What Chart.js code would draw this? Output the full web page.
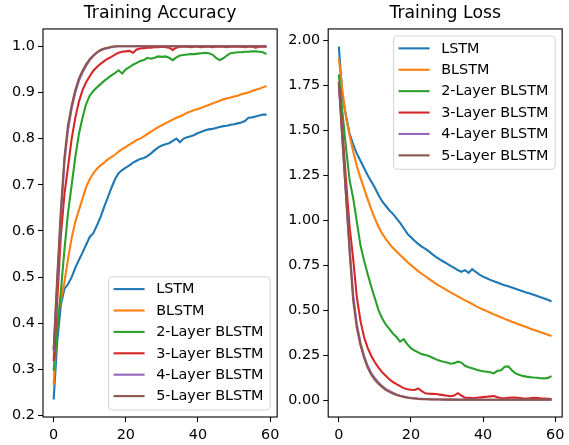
<!DOCTYPE html>
<html><head><meta charset="utf-8">
<script src="https://cdn.jsdelivr.net/npm/chart.js@4.4.1/dist/chart.umd.min.js"></script>
<style>
html,body{margin:0;padding:0;background:#fff;}
#wrap{position:relative;width:569px;height:445px;overflow:hidden;background:#fff;}
canvas{position:absolute;top:0;}
</style></head><body>
<div id="wrap">
<canvas id="acc" width="284" height="445" style="left:0;width:284px;height:445px"></canvas>
<canvas id="loss" width="285" height="445" style="left:284px;width:285px;height:445px"></canvas>
</div>
<script>
// ---------- data ----------
const epochs = Array.from({length: 60}, (_, i) => i);
const seriesNames = ['LSTM', 'BLSTM', '2-Layer BLSTM', '3-Layer BLSTM', '4-Layer BLSTM', '5-Layer BLSTM'];
const xTicks = [0, 20, 40, 60];
const accTicks = [0.2, 0.3, 0.4, 0.5, 0.6, 0.7, 0.8, 0.9, 1.0];
const lossTicks = [0, 0.25, 0.5, 0.75, 1.0, 1.25, 1.5, 1.75, 2.0];

const accLSTM = [0.235,0.36,0.44,0.475,0.485,0.50,0.52,0.537,0.553,0.57,
  0.587,0.595,0.612,0.63,0.652,0.672,0.693,0.712,0.725,0.732,
  0.737,0.742,0.748,0.752,0.756,0.758,0.762,0.768,0.775,0.781,
  0.785,0.788,0.79,0.795,0.80,0.792,0.80,0.803,0.805,0.808,
  0.812,0.815,0.818,0.82,0.821,0.823,0.825,0.827,0.828,0.83,
  0.831,0.833,0.835,0.838,0.845,0.846,0.848,0.85,0.852,0.852];
const accBLSTM = [0.267,0.41,0.45,0.49,0.54,0.585,0.62,0.645,0.67,0.695,
  0.712,0.725,0.735,0.742,0.748,0.755,0.76,0.765,0.772,0.777,
  0.782,0.787,0.792,0.797,0.80,0.805,0.81,0.815,0.82,0.825,
  0.829,0.833,0.837,0.841,0.845,0.848,0.852,0.856,0.859,0.862,
  0.864,0.867,0.87,0.873,0.876,0.879,0.882,0.885,0.887,0.889,
  0.891,0.893,0.896,0.898,0.90,0.903,0.906,0.908,0.911,0.914];
const accL2 = [0.297,0.385,0.47,0.56,0.64,0.70,0.76,0.81,0.845,0.875,
  0.893,0.903,0.911,0.918,0.925,0.931,0.937,0.942,0.948,0.941,
  0.95,0.955,0.96,0.964,0.968,0.97,0.975,0.973,0.975,0.978,
  0.977,0.978,0.975,0.970,0.976,0.980,0.981,0.982,0.983,0.983,
  0.984,0.985,0.986,0.985,0.982,0.975,0.970,0.974,0.980,0.985,
  0.986,0.987,0.987,0.988,0.988,0.989,0.989,0.988,0.987,0.983];
const accL3 = [0.318,0.45,0.59,0.68,0.74,0.80,0.845,0.88,0.905,0.922,
  0.935,0.947,0.955,0.962,0.968,0.973,0.977,0.982,0.986,0.988,
  0.989,0.99,0.986,0.993,0.995,0.996,0.997,0.997,0.998,0.998,
  0.999,0.998,0.997,0.992,0.997,0.999,0.999,0.999,0.998,0.999,
  0.999,0.998,0.999,0.999,0.998,0.999,0.999,0.999,0.998,0.999,
  0.999,0.999,0.999,0.998,0.999,0.999,0.997,0.999,0.999,0.999];
const accL4 = [0.338,0.49,0.63,0.75,0.82,0.865,0.90,0.925,0.943,0.958,
  0.97,0.979,0.986,0.991,0.994,0.996,0.998,0.999,1.0,1.0,
  1.0,1.0,1.0,1.0,1.0,1.0,1.0,1.0,1.0,1.0,
  1.0,1.0,1.0,1.0,1.0,1.0,1.0,1.0,1.0,1.0,
  1.0,1.0,1.0,1.0,1.0,1.0,1.0,1.0,1.0,1.0,
  1.0,1.0,1.0,1.0,1.0,1.0,1.0,1.0,1.0,1.0];
const accL5 = [0.343,0.50,0.645,0.76,0.83,0.872,0.905,0.93,0.947,0.961,
  0.972,0.98,0.987,0.992,0.995,0.997,0.999,1.0,1.0,1.0,
  1.0,1.0,1.0,1.0,1.0,1.0,1.0,1.0,1.0,1.0,
  1.0,1.0,1.0,1.0,1.0,1.0,1.0,1.0,1.0,1.0,
  1.0,1.0,1.0,1.0,1.0,1.0,1.0,1.0,1.0,1.0,
  1.0,1.0,1.0,1.0,1.0,1.0,1.0,1.0,1.0,1.0];

const lossLSTM = [1.965,1.69,1.58,1.48,1.42,1.37,1.33,1.29,1.25,1.215,
  1.18,1.14,1.105,1.08,1.055,1.035,1.01,0.985,0.955,0.925,
  0.905,0.885,0.868,0.853,0.84,0.826,0.81,0.795,0.782,0.77,
  0.758,0.746,0.735,0.722,0.713,0.722,0.707,0.728,0.712,0.697,
  0.686,0.677,0.668,0.66,0.653,0.645,0.638,0.632,0.625,0.618,
  0.612,0.605,0.598,0.592,0.585,0.578,0.571,0.564,0.557,0.548];
const lossBLSTM = [1.90,1.72,1.57,1.47,1.38,1.30,1.235,1.175,1.117,1.06,
  1.008,0.963,0.926,0.896,0.869,0.846,0.826,0.806,0.787,0.767,
  0.75,0.733,0.717,0.702,0.688,0.674,0.66,0.645,0.633,0.622,
  0.61,0.598,0.587,0.576,0.565,0.554,0.544,0.534,0.522,0.512,
  0.503,0.494,0.485,0.476,0.468,0.46,0.451,0.443,0.435,0.428,
  0.42,0.413,0.406,0.398,0.391,0.384,0.377,0.37,0.363,0.356];
const lossL2 = [1.81,1.60,1.40,1.22,1.12,0.99,0.86,0.775,0.70,0.63,
  0.565,0.50,0.455,0.42,0.395,0.37,0.35,0.325,0.338,0.31,
  0.288,0.275,0.265,0.255,0.25,0.245,0.235,0.226,0.218,0.213,
  0.208,0.202,0.205,0.213,0.208,0.19,0.182,0.176,0.17,0.164,
  0.16,0.157,0.154,0.148,0.162,0.165,0.185,0.187,0.165,0.148,
  0.14,0.134,0.13,0.127,0.125,0.124,0.121,0.12,0.123,0.133];
const lossL3 = [1.77,1.50,1.22,0.96,0.78,0.57,0.44,0.35,0.29,0.245,
  0.21,0.18,0.155,0.135,0.115,0.10,0.088,0.077,0.066,0.06,
  0.057,0.056,0.064,0.05,0.037,0.035,0.034,0.033,0.03,0.027,
  0.024,0.021,0.025,0.038,0.025,0.013,0.012,0.011,0.012,0.014,
  0.016,0.018,0.02,0.022,0.015,0.011,0.01,0.012,0.014,0.013,
  0.011,0.009,0.008,0.01,0.012,0.011,0.009,0.008,0.007,0.006];
const lossL4 = [1.765,1.44,1.14,0.84,0.58,0.42,0.32,0.245,0.19,0.15,
  0.122,0.097,0.078,0.062,0.05,0.04,0.031,0.024,0.019,0.015,
  0.012,0.01,0.008,0.007,0.006,0.005,0.004,0.004,0.003,0.003,
  0.003,0.002,0.002,0.002,0.002,0.002,0.002,0.002,0.002,0.002,
  0.001,0.001,0.001,0.001,0.001,0.001,0.001,0.001,0.001,0.001,
  0.001,0.001,0.001,0.001,0.001,0.001,0.001,0.001,0.001,0.001];
const lossL5 = [1.76,1.45,1.13,0.82,0.55,0.40,0.305,0.235,0.18,0.14,
  0.112,0.09,0.072,0.056,0.045,0.036,0.028,0.022,0.017,0.013,
  0.01,0.008,0.006,0.005,0.004,0.0035,0.003,0.003,0.0025,0.002,
  0.002,0.002,0.002,0.0015,0.0015,0.0015,0.0015,0.0015,0.001,0.001,
  0.001,0.001,0.001,0.001,0.001,0.001,0.001,0.001,0.001,0.001,
  0.001,0.001,0.001,0.001,0.001,0.001,0.001,0.001,0.001,0.001];

// ---------- styles ----------
const colors = ['#1f77b4', '#ff7f0e', '#2ca02c', '#d62728', '#9467bd', '#8c564b'];
const FONT = 'DejaVu Sans';
const TICK_SIZE = 14.4;
const TITLE_SIZE = 17.3;

Chart.defaults.color = '#000';
Chart.defaults.font.family = FONT;

function buildDatasets(arrays) {
  return arrays.map((arr, i) => ({
    label: seriesNames[i],
    data: epochs.map((e, k) => ({x: e, y: arr[k]})),
    borderColor: colors[i],
    backgroundColor: colors[i],
    borderWidth: 2.1,
    pointRadius: 0,
    tension: 0,
    fill: false,
    order: arrays.length - i
  }));
}

const frame = {
  id: 'frame',
  afterDatasetsDraw(chart) {
    const a = chart.chartArea, ctx = chart.ctx;
    ctx.save();
    ctx.strokeStyle = '#000';
    ctx.lineWidth = 1.1;
    ctx.strokeRect(a.left, a.top, a.right - a.left, a.bottom - a.top);
    ctx.restore();
  }
};

function rrect(ctx, x, y, w, h, r) {
  ctx.beginPath();
  ctx.moveTo(x + r, y);
  ctx.lineTo(x + w - r, y);
  ctx.arcTo(x + w, y, x + w, y + r, r);
  ctx.lineTo(x + w, y + h - r);
  ctx.arcTo(x + w, y + h, x + w - r, y + h, r);
  ctx.lineTo(x + r, y + h);
  ctx.arcTo(x, y + h, x, y + h - r, r);
  ctx.lineTo(x, y + r);
  ctx.arcTo(x, y, x + r, y, r);
  ctx.closePath();
}

const innerLegend = {
  id: 'innerLegend',
  afterDraw(chart, args, o) {
    const ctx = chart.ctx, a = chart.chartArea;
    const x0 = a.right - o.inset - o.width;
    const y0 = o.corner === 'lower' ? a.bottom - o.inset - o.height : a.top + o.inset;
    ctx.save();
    rrect(ctx, x0, y0, o.width, o.height, 4);
    ctx.fillStyle = 'rgba(255,255,255,0.8)';
    ctx.fill();
    ctx.strokeStyle = 'rgba(204,204,204,0.8)';
    ctx.lineWidth = 1.1;
    ctx.stroke();
    chart.data.datasets.forEach((ds, i) => {
      const y = y0 + o.firstRow + i * o.rowGap;
      ctx.strokeStyle = ds.borderColor;
      ctx.lineWidth = ds.borderWidth;
      ctx.beginPath();
      ctx.moveTo(x0 + o.handleStart, y);
      ctx.lineTo(x0 + o.handleEnd, y);
      ctx.stroke();
      ctx.fillStyle = '#000';
      ctx.font = TICK_SIZE + 'px "' + FONT + '"';
      ctx.textAlign = 'left';
      ctx.textBaseline = 'middle';
      ctx.fillText(ds.label, x0 + o.textStart, y + 0.5);
    });
    ctx.restore();
  }
};

function makeChart(id, arrays, title, yMin, yMax, yTickVals, yDigits, yWidth, padRight, legendCorner) {
  return new Chart(document.getElementById(id), {
    type: 'line',
    data: {datasets: buildDatasets(arrays)},
    plugins: [frame, innerLegend],
    options: {
      responsive: false,
      animation: false,
      events: [],
      layout: {padding: {left: 0, right: padRight, top: 0, bottom: 0}},
      plugins: {
        legend: {display: false},
        tooltip: {enabled: false},
        title: {
          display: true, text: title, fullSize: false,
          color: '#000',
          font: {family: FONT, size: TITLE_SIZE, weight: 'normal', lineHeight: 1.2},
          padding: {top: 3.6, bottom: 4.6}
        },
        innerLegend: {
          corner: legendCorner, inset: 7, width: 161.6, height: 133.3,
          firstRow: 12.4, rowGap: 21.4, handleStart: 5, handleEnd: 36, textStart: 47.6
        }
      },
      scales: {
        x: {
          type: 'linear', min: -2.95, max: 61.95,
          afterBuildTicks: s => { s.ticks = xTicks.map(v => ({value: v})); },
          afterFit: s => { s.height = 28; },
          border: {display: false},
          grid: {display: true, drawOnChartArea: false, drawTicks: true, tickLength: 5, tickWidth: 1.1, tickColor: '#000'},
          ticks: {color: '#000', font: {family: FONT, size: TICK_SIZE}, padding: 4.5, maxRotation: 0,
                  callback: v => String(v)}
        },
        y: {
          type: 'linear', min: yMin, max: yMax,
          afterBuildTicks: s => { s.ticks = yTickVals.map(v => ({value: v})); },
          afterFit: s => { s.width = yWidth; },
          border: {display: false},
          grid: {display: true, drawOnChartArea: false, drawTicks: true, tickLength: 5, tickWidth: 1.1, tickColor: '#000'},
          ticks: {color: '#000', font: {family: FONT, size: TICK_SIZE}, padding: 3,
                  callback: v => Number(v).toFixed(yDigits)}
        }
      }
    }
  });
}

makeChart('acc', [accLSTM, accBLSTM, accL2, accL3, accL4, accL5], 'Training Accuracy',
  0.197, 1.0375, accTicks, 1, 43, 3.5, 'lower');
makeChart('loss', [lossLSTM, lossBLSTM, lossL2, lossL3, lossL4, lossL5], 'Training Loss',
  -0.0945, 2.063, lossTicks, 2, 44.2, 3.6, 'upper');
</script>
</body></html>
